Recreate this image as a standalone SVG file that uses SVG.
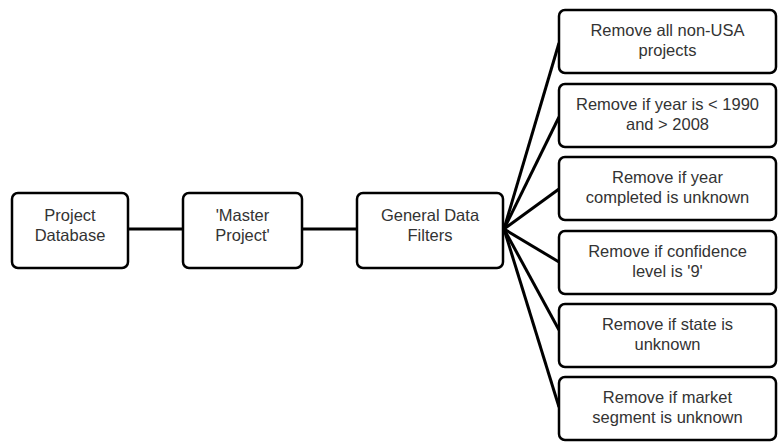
<svg xmlns="http://www.w3.org/2000/svg" width="780" height="442" viewBox="0 0 780 442">
<style>
.box{fill:#fff;stroke:#000;stroke-width:2.5}
.t{font-family:"Liberation Sans",Arial,sans-serif;font-size:16.5px;fill:#333;text-anchor:middle}
.c{stroke:#000;stroke-width:3;fill:none}
</style>
<rect width="780" height="442" fill="#fff"/>
<g id="connectors">
<line class="c" x1="128" y1="229" x2="183" y2="229"/>
<line class="c" x1="302" y1="229" x2="357" y2="229"/>
<line class="c" x1="504" y1="229" x2="559" y2="43"/>
<line class="c" x1="504" y1="229" x2="559" y2="117"/>
<line class="c" x1="504" y1="229" x2="559" y2="189"/>
<line class="c" x1="504" y1="229" x2="559" y2="262"/>
<line class="c" x1="504" y1="229" x2="559" y2="330"/>
<line class="c" x1="504" y1="229" x2="559" y2="407"/>
</g>
<g id="project-database">
<rect class="box" x="12" y="193" width="116" height="75" rx="6"/>
<text class="t" x="70" y="221">Project</text>
<text class="t" x="70" y="241">Database</text>
</g>
<g id="master-project">
<rect class="box" x="183" y="193" width="119" height="75" rx="6"/>
<text class="t" x="242.5" y="221">'Master</text>
<text class="t" x="242.5" y="241">Project'</text>
</g>
<g id="general-data-filters">
<rect class="box" x="357" y="193" width="146" height="75" rx="6"/>
<text class="t" x="430" y="221">General Data</text>
<text class="t" x="430" y="241">Filters</text>
</g>
<g id="filter-usa">
<rect class="box" x="559" y="10" width="217" height="63" rx="6"/>
<text class="t" x="667.5" y="36">Remove all non-USA</text>
<text class="t" x="667.5" y="56">projects</text>
</g>
<g id="filter-year">
<rect class="box" x="559" y="84" width="217" height="63" rx="6"/>
<text class="t" x="667.5" y="110">Remove if year is &lt; 1990</text>
<text class="t" x="667.5" y="130">and &gt; 2008</text>
</g>
<g id="filter-completed">
<rect class="box" x="559" y="157" width="217" height="63" rx="6"/>
<text class="t" x="667.5" y="183">Remove if year</text>
<text class="t" x="667.5" y="203">completed is unknown</text>
</g>
<g id="filter-confidence">
<rect class="box" x="559" y="231" width="217" height="63" rx="6"/>
<text class="t" x="667.5" y="257">Remove if confidence</text>
<text class="t" x="667.5" y="277">level is '9'</text>
</g>
<g id="filter-state">
<rect class="box" x="559" y="304" width="217" height="63" rx="6"/>
<text class="t" x="667.5" y="330">Remove if state is</text>
<text class="t" x="667.5" y="350">unknown</text>
</g>
<g id="filter-market">
<rect class="box" x="559" y="377" width="217" height="63" rx="6"/>
<text class="t" x="667.5" y="403">Remove if market</text>
<text class="t" x="667.5" y="423">segment is unknown</text>
</g>
</svg>
